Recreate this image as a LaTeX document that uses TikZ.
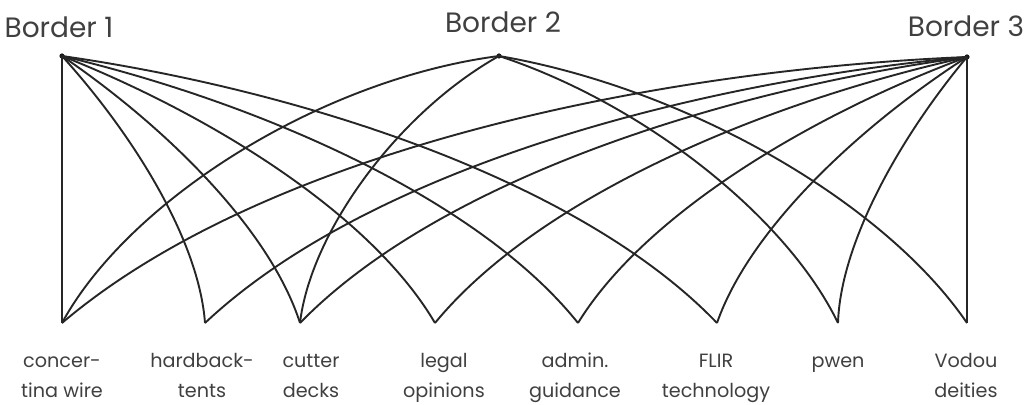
\documentclass[tikz,border=0pt]{standalone}
\usepackage{fontspec}
\setmainfont{Poppins}
\begin{document}
\begin{tikzpicture}[x=0.5pt,y=0.5pt,
  dot/.style={circle,fill=black!90,inner sep=0pt,minimum size=2.6pt},
  edge/.style={line width=0.95pt,draw=black!85},
  toR/.style={out=14,in=156,relative,out looseness=0.9,in looseness=0.7},
  toL/.style={out=-14,in=-156,relative,out looseness=0.9,in looseness=0.7},
  toRb/.style={out=20,in=154,relative,out looseness=0.9,in looseness=0.7},
  toLb/.style={out=-24,in=-150,relative,out looseness=0.9,in looseness=0.7},
  title/.style={text=black!75,font=\fontsize{14}{16}\selectfont,anchor=base,inner sep=0pt},
  lab/.style={text=black!75,font=\fontsize{9.6}{15}\selectfont,align=center,anchor=north,inner sep=0pt}]
\useasboundingbox (0,0) rectangle (1025,-405);
% top nodes
\node[dot] (B1) at (62,-56) {};
\node[dot] (B2) at (499,-56) {};
\node[dot] (B3) at (967,-57) {};
\node[title] (t1) at (59,-38) {Border 1};
\node[title] (t2) at (503,-33) {Border 2};
\node[title] (t3) at (966,-37) {Border 3};
% bottom points
\coordinate (conc) at (62,-323);
\coordinate (hard) at (205,-323);
\coordinate (cut) at (300,-323);
\coordinate (legal) at (435,-323);
\coordinate (admin) at (578,-323);
\coordinate (flir) at (717,-323);
\coordinate (pwen) at (838,-323);
\coordinate (vodou) at (967,-323);
% labels
\node[lab] (lconc) at (62,-346) {\strut concer-\\tina wire};
\node[lab] (lhard) at (202,-346) {\strut hardback-\\tents};
\node[lab] (lcut) at (311,-346) {\strut cutter\\decks};
\node[lab] (llegal) at (444,-346) {\strut legal\\opinions};
\node[lab] (ladmin) at (575,-346) {\strut admin.\\guidance};
\node[lab] (lflir) at (716,-346) {\strut FLIR\\technology};
\node[lab] (lpwen) at (838,-346) {\strut pwen};
\node[lab] (lvodou) at (966,-346) {\strut Vodou\\deities};
% edges from Border 1
\draw[edge] (B1.center) -- (conc);
\draw[edge] (B1.center) to[toR] (hard);
\draw[edge] (B1.center) to[toR] (cut);
\draw[edge] (B1.center) to[toR] (legal);
\draw[edge] (B1.center) to[toR] (admin);
\draw[edge] (B1.center) to[toR] (flir);
% edges from Border 2
\draw[edge] (B2.center) to[toLb] (conc);
\draw[edge] (B2.center) to[toLb] (cut);
\draw[edge] (B2.center) to[toRb] (pwen);
\draw[edge] (B2.center) to[toRb] (vodou);
% edges from Border 3
\draw[edge] (B3.center) -- (vodou);
\draw[edge] (B3.center) to[toL] (conc);
\draw[edge] (B3.center) to[toL] (hard);
\draw[edge] (B3.center) to[toL] (cut);
\draw[edge] (B3.center) to[toL] (legal);
\draw[edge] (B3.center) to[toL] (admin);
\draw[edge] (B3.center) to[toL] (flir);
\draw[edge] (B3.center) to[toL] (pwen);
\end{tikzpicture}
\end{document}
